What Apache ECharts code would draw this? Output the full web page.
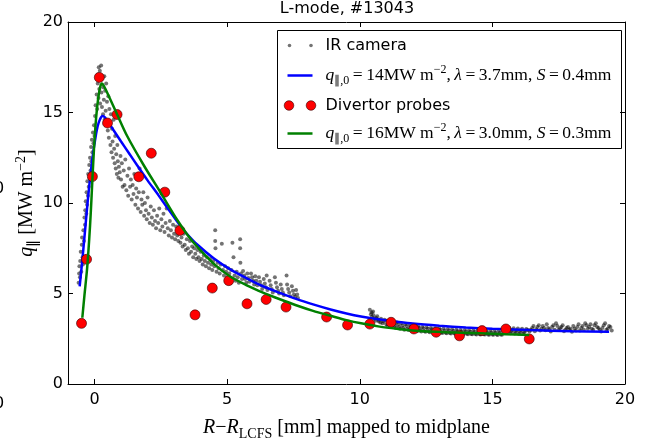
<!DOCTYPE html>
<html>
<head>
<meta charset="utf-8">
<script src="https://cdn.jsdelivr.net/npm/echarts@6/dist/echarts.min.js"></script>
<style>html,body{margin:0;padding:0;background:#fff;}#c{width:648px;height:446px;}</style>
</head>
<body>
<div id="c"></div>
<script>
// ---- data ----
const xTicks = [0, 5, 10, 15, 20];
const yTicks = [0, 5, 10, 15, 20];

const irCamera = [
[-0.60,5.6],[-0.58,6.1],[-0.57,6.5],[-0.55,5.9],[-0.54,6.8],[-0.52,7.3],[-0.5,6.2],[-0.48,7.7],[-0.47,8.1],[-0.45,7.0],[-0.44,6.6],[-0.42,8.5],[-0.4,7.9],[-0.38,9.2],[-0.36,8.8],[-0.35,9.6],[-0.33,10.1],[-0.31,9.4],[-0.3,10.6],[-0.28,9.9],[-0.27,11.2],[-0.25,10.4],[-0.24,11.6],[-0.22,10.9],[-0.2,12.1],[-0.19,11.4],[-0.17,12.5],[-0.15,11.8],[-0.13,13.1],[-0.12,12.3],[-0.1,13.5],[-0.08,12.8],[-0.06,13.9],[-0.04,13.3],[-0.02,14.3],[0.0,13.7],
[0.02,14.8],[0.04,15.4],[0.06,14.1],[0.08,16.0],[0.1,15.2],[0.12,16.6],[0.13,17.1],[0.15,15.8],[0.16,17.5],[0.18,16.3],[0.2,17.3],[0.21,15.5],[0.23,16.8],[0.25,17.6],[0.26,16.1],[0.28,15.3],[0.3,16.9],[0.32,14.9],[0.33,16.4],[0.35,15.7],[0.37,17.0],[0.38,14.6],[0.4,16.2],[0.42,15.1],[0.44,16.6],[0.45,14.3],[0.47,15.6],[0.5,14.0],[0.52,15.9],[0.54,13.6],[0.56,15.2],[0.58,14.4],[0.6,13.2],[0.62,14.9],[0.64,12.8],[0.66,14.1],[0.68,13.4],[0.7,12.5],[0.72,14.6],[0.74,13.0],[0.76,12.2],[0.78,13.7],[0.8,11.9],[0.82,12.7],[0.84,11.6],[0.86,13.2],[0.88,12.3],[0.9,11.4],[0.92,12.0],[0.95,11.7],[0.98,12.6],
[1.0,11.3],[1.03,12.2],[1.06,10.9],[1.1,11.8],[1.13,11.0],[1.16,12.4],[1.2,10.7],[1.24,11.5],[1.27,10.4],[1.3,11.9],[1.34,10.9],[1.37,11.3],[1.4,10.2],[1.44,11.0],[1.47,10.5],[1.5,11.6],[1.54,9.9],[1.57,10.8],[1.6,10.3],[1.64,9.7],[1.67,10.6],[1.7,11.9],[1.74,9.5],[1.77,10.2],[1.8,9.9],[1.84,10.6],[1.87,9.3],[1.9,10.0],[1.94,9.6],[1.97,9.1],[2.0,10.3],[2.04,9.4],[2.08,8.9],[2.12,9.8],[2.16,9.2],[2.2,8.8],[2.24,9.6],[2.28,9.0],[2.32,8.6],[2.36,9.3],[2.4,8.9],[2.44,9.7],[2.48,8.5],[2.52,9.1],[2.56,8.7],[2.6,9.4],[2.64,8.4],[2.68,8.9],[2.72,9.7],[2.76,8.6],[2.8,8.2],[2.84,9.0],[2.88,8.5],[2.92,8.1],[2.96,8.8],[3.0,8.3],[3.04,8.0],[3.08,8.7],[3.12,8.2],[3.16,7.9],
[3.2,8.4],[3.24,7.8],[3.28,8.1],[3.32,7.6],[3.36,8.3],[3.4,7.7],[3.44,7.4],[3.48,8.0],[3.52,7.5],[3.56,7.2],[3.6,7.9],[3.64,7.3],[3.68,7.6],[3.72,7.0],[3.76,7.5],[3.8,7.2],[3.84,6.9],[3.88,7.4],[3.92,7.0],[3.96,6.8],[4.0,7.3],[4.04,6.9],[4.08,6.6],[4.12,7.1],[4.16,6.8],[4.2,6.5],[4.24,7.0],[4.28,6.7],[4.32,6.4],[4.36,6.9],[4.4,6.6],[4.44,6.3],[4.48,6.8],[4.52,6.5],[4.55,8.5],[4.55,7.9],[4.56,7.5],[4.6,6.2],[4.64,6.7],[4.68,6.4],[4.72,6.1],[4.76,6.6],[4.8,7.75],[4.84,6.3],[4.88,6.0],[4.92,6.5],[4.96,6.2],[5.0,5.9],[5.04,6.4],[5.08,6.1],[5.12,5.8],[5.16,6.3],[5.2,7.8],[5.24,7.0],[5.28,6.0],[5.32,5.7],[5.36,6.2],[5.4,5.9],[5.44,5.6],[5.49,8.0],[5.49,7.5],[5.5,6.7],[5.52,6.1],[5.56,5.8],[5.6,6.25],[5.64,6.0],[5.68,5.8],[5.72,5.6],[5.76,6.1],[5.8,5.85],[5.84,5.65],[5.9,6.1],[5.94,5.9],[5.98,5.7],[6.02,5.5],[6.06,5.95],[6.1,5.7],[6.14,5.45],[6.2,5.9],[6.24,5.65],[6.28,5.45],[6.32,5.25],[6.38,5.8],[6.42,5.55],[6.46,5.35],[6.49,6.0],[6.52,5.2],[6.6,5.7],[6.64,5.45],[6.68,5.25],[6.72,5.05],[6.8,5.9],[6.84,5.6],[6.88,5.35],[6.92,5.15],[6.96,5.0],[7.02,5.5],[7.06,5.25],[7.1,5.05],[7.14,4.9],[7.24,6.0],[7.26,5.5],[7.3,5.25],[7.34,5.05],[7.38,4.85],[7.44,5.4],[7.48,5.15],[7.52,4.95],[7.56,4.8],[7.6,5.2],[7.64,4.95],[7.67,4.75],
[10.38,4.1],[10.42,3.85],[10.46,3.7],[10.5,4.0],[10.55,3.6],[10.6,3.5],[10.66,3.75],[10.72,3.45],[10.8,3.6],[10.86,3.35],[10.94,3.55],[11.0,3.3],[11.08,3.5],[11.16,3.25],[11.24,3.45],[11.32,3.2],[11.4,3.4],[11.48,3.15],[11.56,3.35],[11.64,3.1],[11.72,3.3],[11.8,3.05],[11.88,3.25],[11.96,3.0],[12.04,3.2],[12.12,2.97],[12.2,3.18],[12.28,2.95],[12.36,3.15],[12.44,2.92],[12.52,3.12],[12.6,2.9],[12.68,3.1],[12.76,2.88],[12.84,3.08],[12.92,2.86],[13.0,3.06],[13.08,2.84],[13.16,3.05],[13.24,2.83],[13.32,3.04],[13.4,2.82],[13.48,3.02],[13.56,2.8],[13.64,3.0],[13.72,2.79],[13.8,2.99],[13.88,2.78],[13.96,2.98],[14.04,2.77],[14.12,2.97],[14.2,2.76],[14.28,2.96],[14.36,2.76],[14.44,2.95],[14.52,2.75],[14.6,2.95],[14.68,2.75],[14.76,2.94],[14.84,2.74],[14.92,2.94],[15.0,2.74],[15.08,2.93],[15.16,2.73],[15.24,2.93],[15.32,2.73],[15.4,2.95],[15.48,3.15],[15.56,2.92],[15.64,3.1],[15.72,2.9],[15.8,3.08],[15.88,2.88],[15.96,3.06],[16.04,2.87],[16.12,3.05],[16.2,2.86],[16.28,3.04],[16.4,2.9],[16.5,3.1],[16.6,2.92],[16.7,3.15],[16.8,2.95],[16.9,3.2],[17.0,2.97],[17.1,3.1],[17.2,2.9],[17.3,3.25],[17.4,3.35],[17.5,3.0],[17.6,3.15],[17.7,2.92],[17.8,3.1],[17.9,3.0],[18.0,2.88],[18.1,3.05],[18.2,3.15],[18.3,2.95],[18.4,3.2],[18.5,3.35],[18.6,3.05],[18.7,3.3],[18.8,3.0],[18.9,3.35],[19.0,3.1],[19.1,2.9],[19.2,3.25],[19.3,3.0],[19.4,3.2],[19.5,2.95],
[10.45,3.95],[10.52,3.8],[10.62,3.65],[10.7,3.55],[10.78,3.4],[10.9,3.45],[11.04,3.2],[11.12,3.38],[11.2,3.15],[11.28,3.3],[11.36,3.1],[11.44,3.28],[11.52,3.05],[11.6,3.22],[11.68,3.0],[11.76,3.2],[11.84,2.98],[11.92,3.15],[12.0,2.95],[12.08,3.12],[12.16,2.92],[12.24,3.1],[12.32,2.9],[12.4,3.08],[12.48,2.88],[12.56,3.05],[12.64,2.86],[12.72,3.02],[12.8,2.85],[12.88,3.0],[12.96,2.83],[13.04,2.98],[13.12,2.82],[13.2,2.96],[13.28,2.8],[13.36,2.95],[13.44,2.79],[13.52,2.93],[13.6,2.78],[13.68,2.92],[13.76,2.77],[13.84,2.9],[13.92,2.76],[14.0,2.9],[14.08,2.75],[14.16,2.88],[14.24,2.75],[14.32,2.87],[14.4,2.74],[14.48,2.86],[14.56,2.73],[14.64,2.85],[14.72,2.73],[14.8,2.84],[14.88,2.72],[14.96,2.84],[15.04,2.72],[15.12,2.83],[15.2,2.71],[15.28,2.83],[15.36,2.72],[15.44,3.05],[15.52,2.82],[15.6,3.0],[15.68,2.8],[15.76,2.98],[15.84,2.79],[15.92,2.96],[16.0,2.78],[16.08,2.95],[16.16,2.77],[16.24,2.94],[16.34,2.98],[16.45,3.0],[16.55,3.2],[16.65,3.02],[16.75,3.25],[16.85,3.05],[16.95,3.1],[17.05,3.3],[17.15,3.02],[17.25,3.15],[17.35,3.0],[17.45,3.2],[17.55,3.08],[17.65,3.25],[17.75,3.0],[17.85,3.15],[17.95,3.05],[18.05,3.2],[18.15,2.95],[18.25,3.3],[18.35,3.1],[18.45,3.0],[18.55,3.25],[18.65,3.15],[18.75,3.05],[18.85,3.25],[18.95,3.15],[19.05,3.0],[19.15,3.1],[19.25,3.35],[19.35,3.05],[19.45,3.15]
];

const fitIR = [
[-0.56,5.4],[-0.45,7.0],[-0.34,8.75],[-0.25,10.2],[-0.15,11.6],[-0.05,12.8],[0.04,13.65],[0.12,14.25],[0.2,14.6],[0.3,14.8],[0.4,14.72],[0.55,14.4],[0.75,13.95],[1.0,13.4],[1.3,12.75],[1.6,12.1],[2.0,11.25],[2.4,10.45],[2.86,9.5],[3.2,8.8],[3.48,8.3],[3.86,7.72],[4.49,6.95],[5.1,6.35],[5.74,5.84],[6.35,5.4],[6.99,5.03],[7.6,4.7],[8.24,4.4],[8.9,4.12],[9.5,3.9],[10.1,3.72],[10.75,3.56],[11.4,3.44],[12.0,3.34],[13.0,3.22],[14.0,3.12],[15.0,3.05],[16.39,2.98],[18.0,2.92],[19.4,2.88]
];

const divertorProbes = [
[-0.49,3.35],[-0.30,6.89],[-0.08,11.46],[0.18,16.94],[0.49,14.42],[0.85,14.89],[1.67,11.45],[2.14,12.75],[2.65,10.6],[3.22,8.48],[3.79,3.82],[4.44,5.3],[5.06,5.71],[5.75,4.43],[6.47,4.67],[7.22,4.25],[8.75,3.70],[9.54,3.26],[10.38,3.31],[11.18,3.41],[12.04,3.04],[12.88,2.86],[13.76,2.66],[14.61,2.95],[15.51,3.04],[16.39,2.49]
];

const fitProbes = [
[-0.46,3.66],[-0.38,4.9],[-0.28,6.37],[-0.2,8.0],[-0.14,9.5],[-0.08,11.3],[-0.02,13.0],[0.06,14.7],[0.14,15.8],[0.22,16.45],[0.28,16.6],[0.36,16.45],[0.54,15.9],[0.85,14.9],[1.23,13.7],[1.85,12.1],[2.48,10.6],[3.1,9.1],[3.5,8.25],[3.86,7.6],[4.49,6.65],[5.1,5.95],[5.74,5.45],[6.35,5.05],[6.99,4.68],[7.6,4.35],[8.24,4.04],[8.9,3.77],[9.5,3.53],[10.1,3.34],[10.75,3.17],[11.4,3.05],[12.0,2.96],[13.3,2.86],[14.51,2.8],[15.5,2.75],[16.39,2.71]
];

const titleText = 'L-mode, #13043';
const legendNames = ['IR camera', 'fit IR', 'Divertor probes', 'fit probes'];

// ---- chart ----
const SANS = 'DejaVu Sans';
const SERIF = 'Liberation Serif';
const mathRich = (fs) => ({
  n: {fontFamily: SERIF, fontSize: fs, lineHeight: fs + 6, color: '#000'},
  i: {fontFamily: SERIF, fontSize: fs, lineHeight: fs + 6, fontStyle: 'italic', color: '#000'},
  sub: {fontFamily: SERIF, fontSize: Math.round(fs * 0.68), lineHeight: Math.round(fs * 0.68), verticalAlign: 'bottom', color: '#000'},
  sup: {fontFamily: SERIF, fontSize: Math.round(fs * 0.68), lineHeight: Math.round(fs * 0.68), verticalAlign: 'top', color: '#000'}
});

const chart = echarts.init(document.getElementById('c'), null, {renderer: 'canvas'});

const axisLineStyle = {show: true, onZero: false, lineStyle: {color: '#000', width: 1}};
const tickStyle = {show: true, inside: true, length: 5, lineStyle: {color: '#000', width: 1}};

const option = {
  animation: false,
  backgroundColor: '#fff',
  title: {
    text: titleText, left: 347, textAlign: 'center', top: 1, padding: 0,
    textStyle: {fontFamily: SANS, fontSize: 16, fontWeight: 'normal', color: '#000'}
  },
  grid: {left: 68, right: 23, top: 22, bottom: 60, containLabel: false},
  xAxis: [{
    type: 'value', min: -1, max: 20, position: 'bottom',
    axisLine: axisLineStyle, splitLine: {show: false},
    axisTick: Object.assign({customValues: xTicks}, tickStyle),
    axisLabel: {customValues: xTicks, fontFamily: SANS, fontSize: 16, color: '#000', margin: 8},
    name: '{i|R}{n|\u2212}{i|R}{sub|LCFS}{n| [mm] mapped to midplane}',
    nameLocation: 'middle', nameGap: 31, nameMoveOverlap: false,
    nameTextStyle: {rich: mathRich(20)}
  }, {
    type: 'value', min: -1, max: 20, position: 'top',
    axisLine: axisLineStyle, splitLine: {show: false},
    axisTick: Object.assign({customValues: xTicks}, tickStyle),
    axisLabel: {show: false}
  }],
  yAxis: [{
    type: 'value', min: 0, max: 20, position: 'left',
    axisLine: axisLineStyle, splitLine: {show: false},
    axisTick: Object.assign({customValues: yTicks}, tickStyle),
    axisLabel: {customValues: yTicks, fontFamily: SANS, fontSize: 16, color: '#000', margin: 5},
    name: '{i|q}{sub|\u2225}{n| [MW m}{sup|\u22122}{n|]}',
    nameLocation: 'middle', nameGap: 28, nameRotate: 90, nameMoveOverlap: false,
    nameTextStyle: {rich: mathRich(20)}
  }, {
    type: 'value', min: 0, max: 20, position: 'right',
    axisLine: axisLineStyle, splitLine: {show: false},
    axisTick: Object.assign({customValues: yTicks}, tickStyle),
    axisLabel: {show: false}
  }],
  series: [
    {name: legendNames[0], type: 'scatter', data: irCamera, symbolSize: 4,
     itemStyle: {color: 'rgba(0,0,0,0.55)', opacity: 1}, silent: true, z: 2},
    {name: legendNames[1], type: 'line', data: fitIR, showSymbol: false, smooth: 0.3,
     lineStyle: {color: '#0000ff', width: 2.5}, itemStyle: {color: '#0000ff'}, z: 3},
    {name: legendNames[2], type: 'scatter', data: divertorProbes, symbolSize: 10,
     itemStyle: {color: '#ff0000', opacity: 1, borderColor: '#300', borderWidth: 0.6}, z: 4},
    {name: legendNames[3], type: 'line', data: fitProbes, showSymbol: false, smooth: 0.3,
     lineStyle: {color: '#008000', width: 2.5}, itemStyle: {color: '#008000'}, z: 5}
  ],
  graphic: [
    {type: 'text', left: -6, top: 181, style: {text: '0', font: '16px DejaVu Sans', fill: '#000'}},
    {type: 'text', left: -6, top: 396, style: {text: '0', font: '16px DejaVu Sans', fill: '#000'}},
    {
      type: 'group', left: 277, top: 30, z: 100,
      children: [
        {type: 'rect', shape: {x: 0, y: 0, width: 344, height: 118}, style: {fill: '#fff', stroke: '#000', lineWidth: 1}},
        {type: 'circle', shape: {cx: 12, cy: 15, r: 1.8}, style: {fill: 'rgba(0,0,0,0.55)'}},
        {type: 'circle', shape: {cx: 33.5, cy: 15, r: 1.8}, style: {fill: 'rgba(0,0,0,0.55)'}},
        {type: 'text', x: 48, y: 15, style: {text: 'IR camera', font: '16px DejaVu Sans', fill: '#000', verticalAlign: 'middle'}},
        {type: 'line', shape: {x1: 10, y1: 45, x2: 35, y2: 45}, style: {stroke: '#0000ff', lineWidth: 2.5}},
        {type: 'text', x: 48, y: 45, style: {
          text: '{i|q}{sub|\u2225,0}{n|\u2009=\u200914MW m}{sup|\u22122}{n|,\u2009}{i|\u03bb}{n|\u2009=\u20093.7mm, }{i|S}{n|\u2009=\u20090.4mm}',
          rich: mathRich(17.5), verticalAlign: 'middle'}},
        {type: 'circle', shape: {cx: 11.5, cy: 75, r: 4.8}, style: {fill: '#ff0000', stroke: '#300', lineWidth: 0.6}},
        {type: 'circle', shape: {cx: 33.5, cy: 75, r: 4.8}, style: {fill: '#ff0000', stroke: '#300', lineWidth: 0.6}},
        {type: 'text', x: 48, y: 75, style: {text: 'Divertor probes', font: '16px DejaVu Sans', fill: '#000', verticalAlign: 'middle'}},
        {type: 'line', shape: {x1: 10, y1: 103, x2: 35, y2: 103}, style: {stroke: '#008000', lineWidth: 2.5}},
        {type: 'text', x: 48, y: 103, style: {
          text: '{i|q}{sub|\u2225,0}{n|\u2009=\u200916MW m}{sup|\u22122}{n|,\u2009}{i|\u03bb}{n|\u2009=\u20093.0mm, }{i|S}{n|\u2009=\u20090.3mm}',
          rich: mathRich(17.5), verticalAlign: 'middle'}}
      ]
    }
  ]
};
chart.setOption(option);
</script>
</body>
</html>
